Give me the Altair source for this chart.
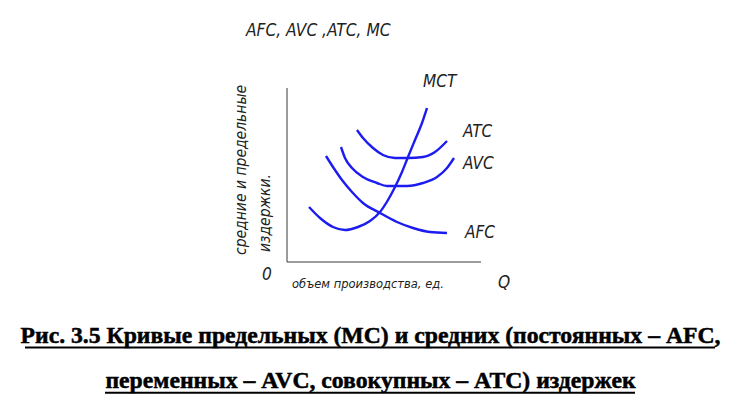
import altair as alt
import pandas as pd

# Cost curves: output quantity Q and average / marginal cost values
mc_q = [22, 33, 46, 58, 71, 83, 93, 101, 108, 115, 121, 128, 135, 140]
mc_c = [55, 44, 35, 32, 35, 41, 50, 62, 75, 90, 105, 122, 139, 154]

afc_q = [39, 46, 55, 65, 76, 93, 110, 126, 143, 160]
afc_c = [106, 95, 82, 70, 59, 49, 40, 34, 30, 29]

avc_q = [54, 58, 65, 76, 90, 100, 120, 136, 150, 160, 167]
avc_c = [115, 104, 94, 85, 79, 76, 76, 79, 85, 94, 104]

atc_q = [70, 76, 86, 96, 108, 121, 136, 148, 160]
atc_c = [132, 124, 114, 107, 104, 104, 105, 110, 121]

curve_names = ["MCT", "ATC", "AVC", "AFC"]
curve_label_q = [136, 176, 176, 178]
curve_label_c = [175, 125, 93, 24]

title_text = "AFC, AVC ,ATC, MC"
x_title = "объем производства, ед."
y_title_lines = ["средние и предельные", "издержки."]
caption_lines = [
    "Рис. 3.5 Кривые предельных (МС) и средних (постоянных – AFC,",
    "переменных – AVC, совокупных – ATC) издержек",
]

BLUE = "#1c1cf0"
HAND = "Liberation Sans Narrow, DejaVu Sans Condensed, Liberation Sans, sans-serif"
SERIF = "Liberation Serif, Times New Roman, serif"

rows = []
for name, qs, cs in [("MC", mc_q, mc_c), ("AFC", afc_q, afc_c),
                     ("AVC", avc_q, avc_c), ("ATC", atc_q, atc_c)]:
    for i, (q, c) in enumerate(zip(qs, cs)):
        rows.append({"curve": name, "i": i, "q": q, "c": c})
curves = pd.DataFrame(rows)

xs = alt.Scale(domain=[-287, 454], nice=False, zero=False)
ys = alt.Scale(domain=[-146, 262], nice=False, zero=False)
X = lambda f: alt.X(f, type="quantitative", scale=xs, axis=None)
Y = lambda f: alt.Y(f, type="quantitative", scale=ys, axis=None)

lines = alt.Chart(curves).mark_line(
    color=BLUE, strokeWidth=2.4, interpolate="monotone"
).encode(x=X("q"), y=Y("c"), detail="curve:N", order="i:Q")

axes_df = pd.DataFrame({"x": [0, 0], "y": [0, 0], "x2": [0, 194], "y2": [174, 0]})
axes = alt.Chart(axes_df).mark_rule(color="#3a3a3a", strokeWidth=1).encode(
    x=X("x"), y=Y("y"), x2="x2", y2="y2"
)

curve_labels = alt.Chart(pd.DataFrame({
    "t": curve_names, "q": curve_label_q, "c": curve_label_c
})).mark_text(font=HAND, fontStyle="italic", fontSize=17, align="left",
              baseline="alphabetic", color="#222").encode(
    x=X("q"), y=Y("c"), text="t:N")

misc_labels = alt.Chart(pd.DataFrame({
    "t": [title_text, "0", "Q"],
    "q": [-41, -25, 211],
    "c": [226, -18, -26],
})).mark_text(font=HAND, fontStyle="italic", fontSize=17.2, align="left",
              baseline="alphabetic", color="#222").encode(
    x=X("q"), y=Y("c"), text="t:N")

x_label = alt.Chart(pd.DataFrame({"t": [x_title], "q": [5], "c": [-26]})).mark_text(
    font=HAND, fontStyle="italic", fontSize=12.8, align="left",
    baseline="alphabetic", color="#222").encode(x=X("q"), y=Y("c"), text="t:N")

y_label = alt.Chart(pd.DataFrame({
    "t": y_title_lines, "q": [-41, -17], "c": [7, 10]
})).mark_text(font=HAND, fontStyle="italic", fontSize=15.5, align="left",
              baseline="alphabetic", angle=270, color="#222").encode(
    x=X("q"), y=Y("c"), text="t:N")

caption = alt.Chart(pd.DataFrame({
    "t": caption_lines, "q": [83.5, 83.5], "c": [-81, -126]
})).mark_text(font=SERIF, fontWeight="bold", fontSize=23.7, align="center",
              baseline="alphabetic", color="black", stroke="black",
              strokeWidth=0.5).encode(
    x=X("q"), y=Y("c"), text="t:N")

underline = alt.Chart(pd.DataFrame({
    "x": [-262, -182], "x2": [428, 348], "y": [-85.5, -130.7]
})).mark_rule(color="black", strokeWidth=2).encode(x=X("x"), x2="x2", y=Y("y"))

chart = alt.layer(
    axes, lines, curve_labels, misc_labels, x_label, y_label, caption, underline
).properties(
    width=741, height=408, padding=0, autosize="none", background="white"
).configure_view(stroke=None)

chart.save("out.html", embed_options={"renderer": "svg", "actions": False})
